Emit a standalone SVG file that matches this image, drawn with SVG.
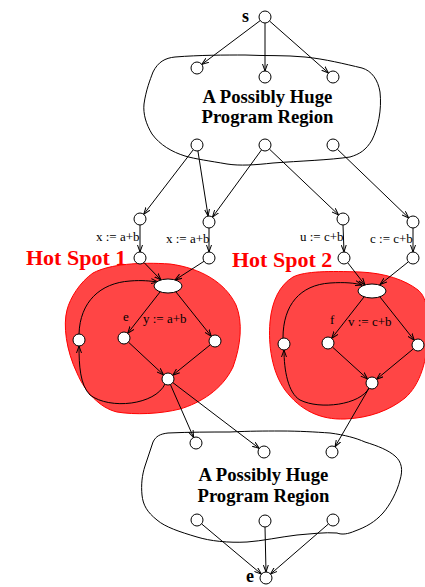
<svg xmlns="http://www.w3.org/2000/svg" width="425" height="587" viewBox="0 0 425 587">
<style>
.n{fill:#fff;stroke:#000;stroke-width:1}
.e{fill:none;stroke:#000;stroke-width:1;marker-end:url(#a)}
.blob{fill:none;stroke:#000;stroke-width:1}
.hot{fill:#ff4545;stroke:#ff0000;stroke-width:1}
.big{font-family:"Liberation Serif",serif;font-weight:bold;font-size:18.7px;text-anchor:middle}
.lab{font-family:"Liberation Serif",serif;font-size:13px}
.hs{font-family:"Liberation Serif",serif;font-weight:bold;font-size:22px;fill:#ff0000}
.se{font-family:"Liberation Serif",serif;font-weight:bold;font-size:18px}
</style>
<defs>
<marker id="a" markerWidth="8" markerHeight="6" refX="7" refY="3" orient="auto" markerUnits="userSpaceOnUse">
<path d="M0,0.5 L7,3 L0,5.5" fill="none" stroke="#000" stroke-width="1"/>
</marker>
</defs>
<g id="hotspot1-area"><path class="hot" d="M93,273 C110,264 140,262 170,264 C200,268 225,282 236,305 C243,322 241,345 233,367 C222,390 200,403 180,409 C160,414 135,415 117,412 C100,408 85,392 77,373 C66,350 63,325 67,310 C70,298 80,282 93,273 Z"/></g>
<g id="hotspot2-area"><path class="hot" d="M293,277 C305,271 330,271 360,272 C385,273 405,280 418,290 C425,296 428,305 428,330 C428,360 420,385 405,398 C390,410 370,418 345,419 C320,420 300,410 285,390 C272,372 268,345 270,322 C272,300 280,285 293,277 Z"/></g>
<g id="region-top"><path class="blob" d="M153,72 C158,62 165,58 175,57 C200,55 225,55 245,55 C265,56 285,55 305,57 C325,59 345,64 362,68 C372,71 378,80 380,92 C382,110 378,128 372,140 C366,150 360,154 350,157 C330,160 300,161 273,163 C255,165 240,166 227,164 C210,161 195,159 185,156 C172,152 160,145 152,134 C146,124 143,114 144,104 C146,90 150,80 153,72 Z"/></g>
<g id="region-bottom"><path class="blob" d="M153,442 C156,436 160,434 168,433 C190,432 210,432 230,432 C250,431 265,431 280,431 C300,431 315,432 330,433 C345,435 356,438 365,442 C378,446 388,450 395,456 C402,462 403,470 400,480 C397,492 390,505 383,513 C375,522 366,527 355,531 C348,534 342,535 337,533 C325,532 310,534 297,535 C280,537 262,541 247,542 C228,543 210,541 197,537 C180,532 165,527 157,520 C147,512 143,505 142,495 C141,485 142,475 145,466 C148,458 150,450 153,442 Z"/></g>
<g id="region-labels">
<text class="big" x="267.5" y="103">A Possibly Huge</text>
<text class="big" x="267.5" y="123">Program Region</text>
<text class="big" x="263.5" y="481">A Possibly Huge</text>
<text class="big" x="263.5" y="502">Program Region</text>
<text class="hs" x="26" y="265">Hot Spot 1</text>
<text class="hs" x="232" y="267">Hot Spot 2</text>
</g>
<g id="connectors">
<path class="e" d="M260.2,20.6 L201.8,64.4"/>
<path class="e" d="M265,23 L265,71"/>
<path class="e" d="M269.5,21 L328.5,73"/>
<path class="e" d="M193.3,149.7 L143.7,214.3"/>
<path class="e" d="M197.9,150.9 L208.1,216.1"/>
<path class="e" d="M261.5,149.9 L212.5,217.1"/>
<path class="e" d="M269.4,149.1 L338.6,214.9"/>
<path class="e" d="M337.3,149.2 L408.7,217.9"/>
<path class="e" d="M140,225 L140,252"/>
<path class="e" d="M209,228 L209,252"/>
<path class="e" d="M343,225 L344,252"/>
<path class="e" d="M413,228 L413,252"/>
<path class="e" d="M144,262.5 L161,280"/>
<path class="e" d="M204,261.3 L175,280"/>
<path class="e" d="M347.7,262.7 L365,285"/>
<path class="e" d="M408.4,261.8 L380,284.5"/>
<path class="e" d="M160,292 L127.7,333.3"/>
<path class="e" d="M176,292 L211.3,336.3"/>
<path class="e" d="M128.4,342.1 L163.6,374.9"/>
<path class="e" d="M210.3,344.8 L172.7,375.2"/>
<path class="e" d="M165,384 C155,405 110,410 90,395 C80,385 79,365 79,346"/>
<path class="e" d="M79,334 C80,302 100,283 130,281 C142,280 150,281 158,282"/>
<path class="e" d="M364,297 L331.7,338.3"/>
<path class="e" d="M380,297 L414.3,340.3"/>
<path class="e" d="M332.4,347 L367.6,379"/>
<path class="e" d="M413.4,348.8 L376.6,379.2"/>
<path class="e" d="M369,388 C360,405 320,410 300,400 C288,393 284,370 284,350"/>
<path class="e" d="M283,338 C283,305 300,285 330,283 C345,282 355,283 362,285"/>
<path class="e" d="M170.4,384.5 L193.6,437.5"/>
<path class="e" d="M172.8,382.6 L259.2,448.4"/>
<path class="e" d="M369,388.2 L335,446.8"/>
<path class="e" d="M201.6,523.9 L261.4,574.1"/>
<path class="e" d="M265,527 L266,572"/>
<path class="e" d="M328.5,523.9 L270.5,574.1"/>
</g>
<g id="s"><circle class="n" cx="265" cy="17" r="6"/><text class="se" x="242" y="22">s</text></g>
<g id="t1"><circle class="n" cx="197" cy="68" r="6"/></g>
<g id="t2"><circle class="n" cx="265" cy="77" r="6"/></g>
<g id="t3"><circle class="n" cx="333" cy="77" r="6"/></g>
<g id="t4"><circle class="n" cx="197" cy="145" r="6"/></g>
<g id="t5"><circle class="n" cx="265" cy="145" r="6"/></g>
<g id="t6"><circle class="n" cx="333" cy="145" r="6"/></g>
<g id="a1"><circle class="n" cx="140" cy="219" r="6"/></g>
<g id="a2"><circle class="n" cx="209" cy="222" r="6"/></g>
<g id="a3"><circle class="n" cx="343" cy="219" r="6"/></g>
<g id="a4"><circle class="n" cx="413" cy="222" r="6"/></g>
<g id="b1"><circle class="n" cx="140" cy="258" r="6"/><text class="lab" x="96" y="241">x := a+b</text></g>
<g id="b2"><circle class="n" cx="209" cy="258" r="6"/><text class="lab" x="166" y="243">x := a+b</text></g>
<g id="b3"><circle class="n" cx="344" cy="258" r="6"/><text class="lab" x="300" y="241">u := c+b</text></g>
<g id="b4"><circle class="n" cx="413" cy="258" r="6"/><text class="lab" x="370" y="243">c := c+b</text></g>
<g id="h1-top"><ellipse class="n" cx="168" cy="286" rx="14" ry="7"/></g>
<g id="h1-left"><circle class="n" cx="79" cy="340" r="6"/></g>
<g id="h1-e"><circle class="n" cx="124" cy="338" r="6"/><text class="lab" x="123" y="321">e</text><text class="lab" x="143" y="323">y := a+b</text></g>
<g id="h1-right"><circle class="n" cx="215" cy="341" r="6"/></g>
<g id="h1-bottom"><circle class="n" cx="168" cy="379" r="6"/></g>
<g id="h2-top"><ellipse class="n" cx="372" cy="291" rx="14" ry="7"/></g>
<g id="h2-left"><circle class="n" cx="284" cy="344" r="6"/></g>
<g id="h2-f"><circle class="n" cx="328" cy="343" r="6"/><text class="lab" x="330" y="324">f</text><text class="lab" x="348" y="326">v := c+b</text></g>
<g id="h2-right"><circle class="n" cx="418" cy="345" r="6"/></g>
<g id="h2-bottom"><circle class="n" cx="372" cy="383" r="6"/></g>
<g id="u1"><circle class="n" cx="196" cy="443" r="6"/></g>
<g id="u2"><circle class="n" cx="264" cy="452" r="6"/></g>
<g id="u3"><circle class="n" cx="332" cy="452" r="6"/></g>
<g id="v1"><circle class="n" cx="197" cy="520" r="6"/></g>
<g id="v2"><circle class="n" cx="265" cy="521" r="6"/></g>
<g id="v3"><circle class="n" cx="333" cy="520" r="6"/></g>
<g id="e"><circle class="n" cx="266" cy="578" r="6"/><text class="se" x="246" y="582">e</text></g>
</svg>
